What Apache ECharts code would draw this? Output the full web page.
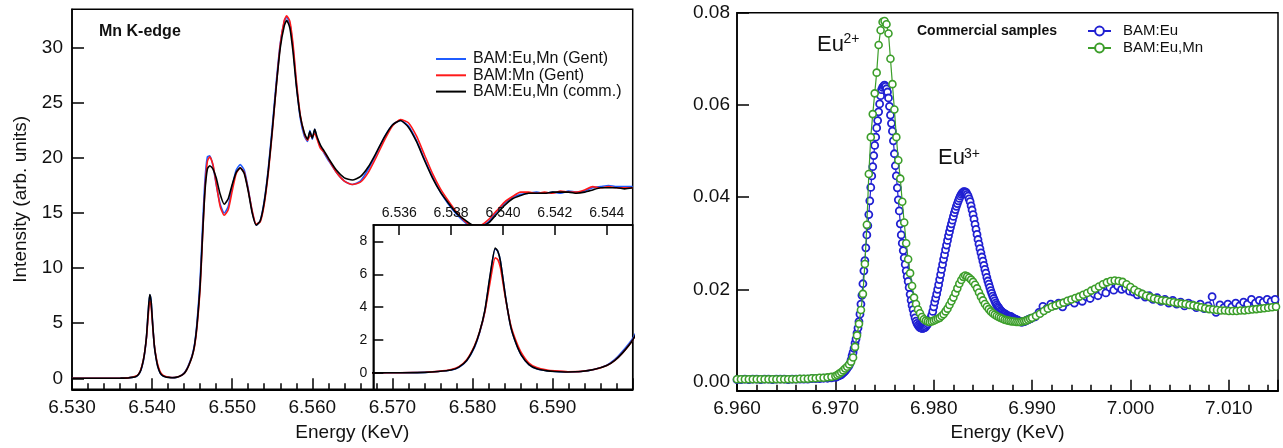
<!DOCTYPE html>
<html>
<head>
<meta charset="utf-8">
<script src="https://cdn.jsdelivr.net/npm/echarts@6/dist/echarts.min.js"></script>
<style>
html,body{margin:0;padding:0;background:#fff;}
#chart{width:1283px;height:448px;}
</style>
</head>
<body>
<div id="chart"></div>
<script>
// ---------- Left panel: Mn K-edge ----------
const eMn = [
6.530, 6.533, 6.535, 6.536, 6.537, 6.5375, 6.538, 6.5383, 6.5386, 6.5389,
6.5391, 6.5393, 6.5395, 6.5397, 6.5398, 6.5399, 6.5401, 6.5403, 6.5405, 6.5407,
6.541, 6.5413, 6.5417, 6.542, 6.5425, 6.543, 6.5435, 6.544, 6.5443, 6.5446,
6.545, 6.5453, 6.5456, 6.546, 6.5463, 6.5466, 6.5469, 6.5472, 6.5476, 6.548,
6.5485, 6.549, 6.5495, 6.550, 6.5505, 6.551, 6.5515, 6.552, 6.5525, 6.553,
6.5535, 6.554, 6.5545, 6.555, 6.5555, 6.556, 6.5565, 6.5568, 6.5572, 6.5576,
6.558, 6.5585, 6.559, 6.5594, 6.5597, 6.560, 6.5603, 6.5606, 6.561, 6.5615,
6.562, 6.563, 6.564, 6.565, 6.566, 6.567, 6.568, 6.569, 6.570, 6.571,
6.572, 6.573, 6.574, 6.575, 6.576, 6.577, 6.578, 6.579, 6.580, 6.581,
6.582, 6.583, 6.584, 6.585, 6.586, 6.587, 6.588, 6.589, 6.590, 6.591,
6.592, 6.593, 6.594, 6.595, 6.596, 6.597, 6.598, 6.599, 6.600
];
const mnEuMnGent = [
0, 0, 0, 0.01, 0.03, 0.08, 0.17, 0.34, 0.73, 1.55,
2.45, 3.75, 5.85, 7.55, 7.4, 6.8, 4.6, 2.8, 1.8, 1.1,
0.5, 0.25, 0.13, 0.09, 0.06, 0.08, 0.2, 0.47, 0.8, 1.3,
2.1, 3.1, 5.0, 9.0, 13.8, 18.0, 20.1, 20.2, 19.3, 17.6,
15.8, 15.0, 15.6, 17.4, 18.9, 19.4, 18.9, 17.2, 15.1, 13.9,
14.3, 16.1, 19.0, 22.8, 26.9, 30.4, 32.4, 32.8, 32.2, 30.0,
26.8, 23.6, 22.0, 21.5, 22.5, 21.7, 22.6, 21.8, 21.1, 20.4,
19.8, 18.7, 17.9, 17.6, 17.9, 19.0, 20.4, 21.9, 23.0, 23.4,
22.9, 21.6, 19.9, 18.3, 16.9, 15.8, 14.9, 14.2, 13.7, 13.8,
14.2, 15.1, 15.9, 16.4, 16.7, 16.8, 16.9, 16.8, 16.9, 16.8,
17.0, 16.9, 17.0, 17.3, 17.4, 17.5, 17.4, 17.4, 17.4
];
const mnMnGent = [
0, 0, 0, 0.01, 0.04, 0.09, 0.2, 0.38, 0.8, 1.65,
2.5, 3.7, 5.5, 7.0, 6.9, 6.4, 4.5, 2.9, 1.95, 1.25,
0.6, 0.32, 0.17, 0.12, 0.07, 0.09, 0.2, 0.45, 0.75, 1.2,
2.0, 2.9, 4.6, 8.2, 12.8, 17.2, 19.7, 20.1, 19.4, 17.7,
15.6, 14.8, 15.3, 17.0, 18.6, 19.1, 18.7, 17.1, 15.2, 14.0,
14.2, 15.8, 18.6, 22.3, 26.5, 30.3, 32.5, 32.9, 32.4, 30.3,
27.1, 23.9, 22.2, 21.6, 22.0, 22.0, 22.2, 21.7, 20.9, 20.5,
19.9, 18.7, 17.9, 17.6, 17.8, 18.7, 20.1, 21.6, 22.9, 23.5,
23.2, 22.0, 20.3, 18.6, 17.2, 16.1, 15.1, 14.3, 13.9, 13.9,
14.4, 15.2, 16.0, 16.5, 16.9, 16.9, 16.8, 16.9, 16.8, 17.0,
16.9, 16.9, 17.1, 17.4, 17.3, 17.4, 17.3, 17.3, 17.3
];
const mnEuMnComm = [
0, 0, 0, 0.01, 0.03, 0.08, 0.17, 0.35, 0.75, 1.6,
2.5, 3.8, 5.9, 7.6, 7.4, 6.8, 4.6, 2.8, 1.8, 1.1,
0.5, 0.25, 0.12, 0.08, 0.05, 0.08, 0.2, 0.45, 0.75, 1.2,
2.0, 3.0, 4.8, 8.5, 13.0, 17.0, 19.0, 19.3, 19.0, 18.2,
16.7, 15.8, 16.3, 17.6, 18.7, 19.1, 18.6, 17.0, 15.0, 13.9,
14.3, 16.0, 18.8, 22.5, 26.5, 30.0, 32.0, 32.5, 31.8, 29.6,
26.6, 23.8, 22.3, 21.7, 22.4, 21.8, 22.6, 21.9, 21.2, 20.6,
20.0, 18.9, 18.2, 18.0, 18.3, 19.2, 20.5, 21.9, 23.0, 23.4,
22.8, 21.5, 19.8, 18.2, 16.9, 15.9, 15.0, 14.4, 13.9, 13.8,
14.1, 14.9, 15.7, 16.3, 16.6, 16.8, 16.8, 16.8, 16.9, 16.9,
16.9, 16.8, 16.9, 17.1, 17.3, 17.3, 17.3, 17.2, 17.3
];
const mainYTicks = [0, 5, 10, 15, 20, 25, 30];
const insetXTicks = [6.536, 6.538, 6.540, 6.542, 6.544];
const insetYTicks = [0, 2, 4, 6, 8];

// ---------- Right panel: Eu L3-edge, commercial samples ----------
// energy sampling (segments: start, step, count)
function seq(start, step, n) { const a = []; for (let i = 0; i < n; i++) a.push(+(start + step * i).toFixed(5)); return a; }
const eEu = [].concat(seq(6.960, 0.0004, 26), seq(6.9701, 0.0001, 199), seq(6.9903, 0.0004, 62));
const eEuMn = [].concat(seq(6.960, 0.0004, 26), seq(6.9702, 0.0002, 100), seq(6.9904, 0.0004, 62));
const bamEu = [
0.0004,0.0004,0.0005,0.0004,0.0005,0.0005,0.0004,0.0005,0.0005,0.0004,
0.0005,0.0005,0.0005,0.0004,0.0005,0.0005,0.0005,0.0005,0.0005,0.0006,
0.0006,0.0006,0.0007,0.0007,0.0008,0.0009,
0.0010,0.0011,0.0012,0.0013,0.0014,0.0015,0.0017,0.0019,0.0021,0.0023,
0.0026,0.0029,0.0032,0.0035,0.0040,0.0047,0.0056,0.0063,0.0072,0.0083,
0.0092,0.0105,0.0116,0.0130,0.0146,0.0168,0.0187,0.0212,0.0240,0.0262,
0.0290,0.0318,0.0338,0.0362,0.0392,0.0421,0.0446,0.0466,0.0490,0.0512,
0.0530,0.0550,0.0566,0.0585,0.0602,0.0620,0.0633,0.0638,0.0641,0.0643,
0.0640,0.0635,0.0628,0.0615,0.0597,0.0578,0.0560,0.0543,0.0522,0.0494,
0.0468,0.0446,0.0420,0.0394,0.0370,0.0342,0.0318,0.0300,0.0284,0.0268,
0.0254,0.0240,0.0228,0.0217,0.0204,0.0189,0.0176,0.0165,0.0156,0.0146,
0.0138,0.0131,0.0126,0.0122,0.0119,0.0117,0.0116,0.0115,0.0115,0.0116,
0.0117,0.0119,0.0122,0.0125,0.0129,0.0133,0.0138,0.0144,0.0152,0.0162,
0.0172,0.0181,0.0190,0.0200,0.0210,0.0221,0.0232,0.0243,0.0254,0.0265,
0.0275,0.0286,0.0296,0.0306,0.0316,0.0325,0.0334,0.0342,0.0350,0.0358,
0.0366,0.0373,0.0380,0.0386,0.0392,0.0397,0.0402,0.0406,0.0409,0.0411,
0.0412,0.0411,0.0410,0.0406,0.0402,0.0396,0.0390,0.0381,0.0372,0.0362,
0.0352,0.0341,0.0330,0.0319,0.0308,0.0298,0.0288,0.0279,0.0270,0.0261,
0.0252,0.0243,0.0235,0.0226,0.0218,0.0211,0.0204,0.0197,0.0191,0.0185,
0.0180,0.0175,0.0170,0.0166,0.0163,0.0160,0.0157,0.0154,0.0152,0.0150,
0.0148,0.0147,0.0146,0.0144,0.0143,0.0142,0.0141,0.0141,0.0140,0.0138,
0.0137,0.0136,0.0135,0.0134,0.0133,0.0132,0.0131,0.0130,0.0129,0.0129,
0.0130,0.0130,0.0131,0.0132,0.0133,0.0134,0.0135,0.0136,0.0137,
0.0140,0.0150,0.0163,0.0158,0.0168,0.0165,0.0170,0.0162,0.0172,0.0176,
0.0170,0.0178,0.0174,0.0184,0.0180,0.0190,0.0186,0.0196,0.0192,0.0204,
0.0198,0.0207,0.0200,0.0203,0.0196,0.0194,0.0188,0.0190,0.0183,0.0186,
0.0178,0.0182,0.0174,0.0178,0.0170,0.0176,0.0168,0.0172,0.0164,0.0170,
0.0166,0.0160,0.0168,0.0158,0.0164,0.0184,0.0150,0.0166,0.0160,0.0168,
0.0162,0.0170,0.0164,0.0172,0.0168,0.0178,0.0170,0.0176,0.0172,0.0178,
0.0174,0.0178
];
const bamEuMn = [
0.0005,0.0005,0.0005,0.0005,0.0005,0.0005,0.0005,0.0005,0.0005,0.0005,
0.0005,0.0005,0.0005,0.0005,0.0005,0.0005,0.0006,0.0006,0.0006,0.0007,
0.0007,0.0008,0.0008,0.0009,0.0010,0.0012,
0.0014,0.0017,0.0020,0.0024,0.0028,0.0032,0.0037,0.0043,0.0052,0.0075,
0.0100,0.0125,0.0155,0.0190,0.0255,0.0340,0.0450,0.0530,0.0580,0.0625,
0.0670,0.0730,0.0762,0.0780,0.0782,0.0775,0.0755,0.0700,0.0645,0.0590,
0.0530,0.0480,0.0440,0.0390,0.0345,0.0300,0.0265,0.0235,0.0207,0.0182,
0.0168,0.0156,0.0148,0.0140,0.0135,0.0132,0.0130,0.0129,0.0130,0.0132,
0.0134,0.0136,0.0138,0.0142,0.0146,0.0152,0.0158,0.0166,0.0174,0.0182,
0.0192,0.0202,0.0212,0.0220,0.0227,0.0230,0.0228,0.0225,0.0221,0.0216,
0.0210,0.0202,0.0193,0.0184,0.0176,0.0168,0.0162,0.0157,0.0152,0.0148,
0.0145,0.0142,0.0140,0.0138,0.0136,0.0134,0.0133,0.0132,0.0131,0.0130,
0.0130,0.0129,0.0129,0.0129,0.0130,0.0131,0.0132,0.0134,0.0136,0.0138,
0.0142,0.0147,0.0153,0.0158,0.0162,0.0165,0.0168,0.0171,0.0175,0.0178,
0.0181,0.0184,0.0188,0.0192,0.0197,0.0201,0.0206,0.0211,0.0215,0.0218,
0.0219,0.0218,0.0216,0.0211,0.0205,0.0199,0.0194,0.0190,0.0186,0.0183,
0.0180,0.0178,0.0176,0.0175,0.0173,0.0172,0.0170,0.0169,0.0168,0.0166,
0.0165,0.0163,0.0161,0.0159,0.0157,0.0156,0.0155,0.0154,0.0154,0.0153,
0.0153,0.0153,0.0154,0.0154,0.0155,0.0156,0.0157,0.0158,0.0159,0.0160,
0.0161,0.0162
];
const rightYTicks = [0, 0.02, 0.04, 0.06, 0.08];

const leftNames = ['BAM:Eu,Mn (Gent)', 'BAM:Mn (Gent)', 'BAM:Eu,Mn (comm.)'];
const leftColors = ['#1f5cff', '#ff1a1a', '#000000'];
const leftData = [mnEuMnGent, mnMnGent, mnEuMnComm];
const rightNames = ['BAM:Eu', 'BAM:Eu,Mn'];
const rightColors = ['#2020d2', '#3c9e2a'];

const pairs = (xs, ys) => xs.map((x, i) => [x, ys[i]]);
const FONT = '"Liberation Sans", Arial, sans-serif';
const black = '#000';

const series = [];
leftData.forEach((d, i) => {
  series.push({ name: leftNames[i], type: 'line', xAxisIndex: 0, yAxisIndex: 0, data: pairs(eMn, d),
    symbol: 'none', smooth: 0.2, lineStyle: { color: leftColors[i], width: 1.6 }, itemStyle: { color: leftColors[i] }, z: 2 });
});
leftData.forEach((d, i) => {
  series.push({ name: leftNames[i], type: 'line', xAxisIndex: 1, yAxisIndex: 1, data: pairs(eMn, d),
    symbol: 'none', smooth: 0.2, clip: true, lineStyle: { color: leftColors[i], width: 1.6 }, itemStyle: { color: leftColors[i] }, z: 6 });
});
[[eEu, bamEu], [eEuMn, bamEuMn]].forEach((p, i) => {
  series.push({ name: rightNames[i], type: 'line', xAxisIndex: 2, yAxisIndex: 2, data: pairs(p[0], p[1]),
    symbol: 'circle', symbolSize: 7, showAllSymbol: true,
    lineStyle: { color: rightColors[i], width: 1.2 },
    itemStyle: { color: '#fff', borderColor: rightColors[i], borderWidth: i === 0 ? 1.8 : 1.6 }, z: 2 + i });
});

const tickStyle = { color: black, width: 1.5 };
const option = {
  animation: false,
  textStyle: { fontFamily: FONT },
  grid: [
    { left: 72, top: 9.3, width: 560.7, height: 380, show: true, borderColor: black, borderWidth: 1.5, backgroundColor: 'transparent' },
    { left: 373.3, top: 225, width: 259.4, height: 164.3, show: true, borderColor: black, borderWidth: 1.5, backgroundColor: '#fff', z: 3 },
    { left: 737, top: 12.7, width: 541, height: 378, show: true, borderColor: black, borderWidth: 1.5, backgroundColor: 'transparent' }
  ],
  xAxis: [
    { gridIndex: 0, type: 'value', min: 6.53, max: 6.6, interval: 0.01, z: 7,
      axisLine: { onZero: false, lineStyle: { color: black, width: 2 } },
      axisTick: { inside: true, length: 11, lineStyle: tickStyle },
      minorTick: { show: true, splitNumber: 5, length: 6, lineStyle: tickStyle },
      splitLine: { show: false },
      axisLabel: { fontSize: 19, color: '#111', margin: 9, showMinLabel: true, showMaxLabel: false, formatter: v => v.toFixed(3) },
      name: 'Energy (KeV)', nameLocation: 'middle', nameGap: 34, nameTextStyle: { fontSize: 19, color: '#111' } },
    { gridIndex: 1, type: 'value', position: 'top', min: 6.535, max: 6.545, z: 7,
      axisLine: { onZero: false, lineStyle: { color: black, width: 1.5 } },
      axisTick: { inside: true, length: 10, lineStyle: tickStyle, customValues: insetXTicks },
      splitLine: { show: false },
      axisLabel: { fontSize: 14, color: '#111', margin: 5, customValues: insetXTicks, formatter: v => v.toFixed(3) } },
    { gridIndex: 2, type: 'value', min: 6.96, max: 7.015, interval: 0.01,
      axisLine: { onZero: false, lineStyle: { color: black, width: 2 } },
      axisTick: { inside: true, length: 11, lineStyle: tickStyle },
      minorTick: { show: true, splitNumber: 5, length: 6, lineStyle: tickStyle },
      splitLine: { show: false },
      axisLabel: { fontSize: 19, color: '#111', margin: 9, showMaxLabel: false, formatter: v => v.toFixed(3) },
      name: 'Energy (KeV)', nameLocation: 'middle', nameGap: 32, nameTextStyle: { fontSize: 19, color: '#111' } }
  ],
  yAxis: [
    { gridIndex: 0, type: 'value', min: -1, max: 33.5,
      axisLine: { show: true, onZero: false, lineStyle: { color: black, width: 1.5 } },
      axisTick: { show: true, inside: true, length: 12, lineStyle: tickStyle, customValues: mainYTicks },
      splitLine: { show: false },
      axisLabel: { fontSize: 19, color: '#111', margin: 9, customValues: mainYTicks },
      name: 'Intensity (arb. units)', nameLocation: 'middle', nameGap: 42, nameTextStyle: { fontSize: 19, color: '#111' } },
    { gridIndex: 1, type: 'value', min: -1, max: 9, z: 7,
      axisLine: { show: true, onZero: false, lineStyle: { color: black, width: 1.5 } },
      axisTick: { show: true, inside: true, length: 10, lineStyle: tickStyle, customValues: insetYTicks },
      splitLine: { show: false },
      axisLabel: { fontSize: 14, color: '#111', margin: 6, customValues: insetYTicks } },
    { gridIndex: 2, type: 'value', min: -0.002, max: 0.08,
      axisLine: { show: true, onZero: false, lineStyle: { color: black, width: 1.5 } },
      axisTick: { show: true, inside: true, length: 12, lineStyle: tickStyle, customValues: rightYTicks },
      splitLine: { show: false },
      axisLabel: { fontSize: 19, color: '#111', margin: 7, customValues: rightYTicks, formatter: v => v.toFixed(2) } }
  ],
  legend: [
    { data: leftNames, orient: 'vertical', left: 436, top: 51, padding: 0, icon: 'rect', itemWidth: 30, itemHeight: 2, itemGap: 0.3,
      selectedMode: false, textStyle: { fontSize: 16, color: '#111', padding: [0, 0, 0, 2] } },
    { data: rightNames, orient: 'vertical', left: 1087, top: 23.5, padding: 0, itemWidth: 23, itemHeight: 11, itemGap: 2,
      selectedMode: false, textStyle: { fontSize: 15, color: '#111', padding: [0, 0, 0, 7] } }
  ],
  graphic: [
    { type: 'text', left: 99, top: 24, z: 20, style: { text: 'Mn K-edge', font: 'bold 16px ' + FONT, fill: '#111' } },
    { type: 'text', left: 917, top: 24.5, z: 20, style: { text: 'Commercial samples', font: 'bold 14px ' + FONT, fill: '#111' } },
    { type: 'text', left: 817, top: 34, z: 20, style: { text: 'Eu', font: '22px ' + FONT, fill: '#111' } },
    { type: 'text', left: 843.5, top: 32, z: 20, style: { text: '2+', font: '14px ' + FONT, fill: '#111' } },
    { type: 'text', left: 938, top: 147, z: 20, style: { text: 'Eu', font: '22px ' + FONT, fill: '#111' } },
    { type: 'text', left: 964, top: 147, z: 20, style: { text: '3+', font: '14px ' + FONT, fill: '#111' } }
  ],
  series: series
};
const chart = echarts.init(document.getElementById('chart'), null, { renderer: 'canvas' });
chart.setOption(option);
</script>
</body>
</html>
